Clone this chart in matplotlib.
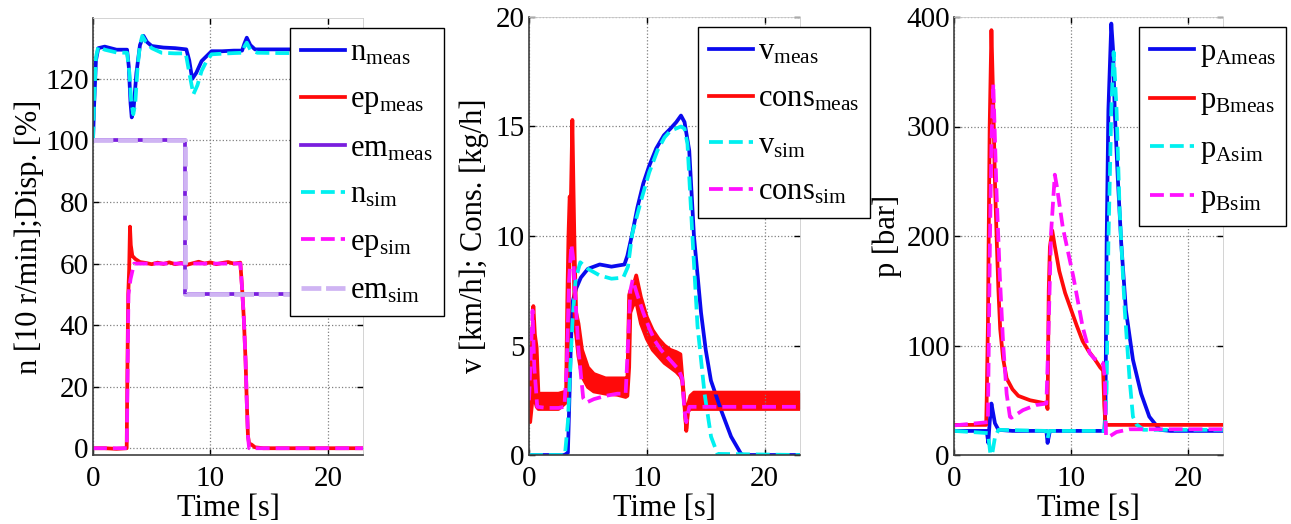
import matplotlib
matplotlib.use("Agg")
import matplotlib.pyplot as plt

plt.rcParams['font.family'] = ['Liberation Serif', 'DejaVu Serif']
plt.rcParams['mathtext.fontset'] = 'custom'
plt.rcParams['mathtext.rm'] = 'Liberation Serif'
plt.rcParams['mathtext.it'] = 'Liberation Serif:italic'

# ---- panel 1: speed / displacement ----
n_meas_t = [0, 0.1, 0.25, 0.45, 1.0, 2.0, 2.9, 3.05, 3.2, 3.3, 3.45, 3.7, 4.0, 4.3, 4.6, 5.0, 6.0, 7.0,
            7.95, 8.2, 8.45, 8.8, 9.25, 9.7, 10.1, 11, 12, 12.7, 12.9, 13.1, 13.4, 13.8, 15, 17, 20, 23]
n_meas_v = [100, 112, 126, 130, 130.5, 129.5, 129.5, 124, 112, 107.5, 110, 122, 131, 134, 132, 130.7, 130.2, 130,
            129.6, 126, 120, 122, 125.8, 127.5, 129, 129, 129.2, 129.2, 131.5, 133.4, 131, 129.6, 129.6, 129.6, 129.5, 129.5]
n_sim_t = [0, 0.1, 0.25, 0.45, 1.0, 2.0, 2.9, 3.1, 3.25, 3.43, 3.6, 3.8, 4.0, 4.2, 4.5, 5.0, 5.85, 7, 7.9,
           8.2, 8.55, 8.9, 9.25, 9.7, 10.1, 11, 12, 12.7, 12.9, 13.1, 13.4, 14, 16, 20, 23]
n_sim_v = [100, 113, 127, 130.5, 129.5, 128.6, 128.5, 122, 113, 108.5, 112, 124, 131, 134, 132, 130, 128.5, 128.3, 128.3,
           122, 115, 118, 122.6, 126, 128, 128.2, 128.4, 128.5, 130.5, 131.8, 129.5, 128.5, 128.4, 128.4, 128.4]
ep_meas_t = [0, 1, 2, 2.87, 2.93, 3.0, 3.08, 3.15, 3.22, 3.35, 3.6, 4.0, 4.5, 5, 5.5, 6, 6.5, 7, 7.5, 8, 8.5,
             9, 9.5, 10, 10.5, 11, 11.5, 12, 12.55, 12.7, 12.85, 13.0, 13.1, 13.2, 13.3, 13.5, 13.8, 14.5, 17, 20, 23]
ep_meas_v = [0, 0, -0.2, 0, 25, 50, 58, 72, 66, 62.5, 61.5, 60.5, 60.2, 59.8, 60.3, 59.9, 60.4, 59.8, 60.2, 59.6, 60.1,
             60.6, 60.0, 60.4, 59.8, 60.2, 60.5, 60.0, 60.3, 52, 42, 28, 15, 4, 1.5, 1.2, 0.3, 0, 0, 0, 0]
ep_sim_t = [0, 2.88, 2.95, 3.02, 3.2, 3.5, 12.55, 12.7, 12.85, 13.0, 13.1, 13.2, 13.3, 23]
ep_sim_v = [0, 0, 25, 50, 55, 60, 60, 52, 42, 28, 15, 4, 0, 0]
em_t = [0, 7.85, 7.85, 23]
em_meas_v = [100, 100, 50, 50]
em_sim_v = [100, 100, 50, 50]

# ---- panel 2: velocity / consumption ----
v_meas_t = [0, 3.0, 3.3, 3.4, 3.55, 3.7, 4.0, 4.4, 5.0, 6.0, 7.0, 8.1, 8.35, 8.76, 9.2, 9.7, 10.2, 10.8, 11.45,
            12.0, 12.5, 12.9, 13.2, 13.6, 14.0, 14.6, 15.0, 15.44, 16.3, 17.15, 18.0, 18.2, 23]
v_meas_v = [0, 0, 0.1, 2.0, 5.0, 7.0, 7.6, 8.1, 8.5, 8.7, 8.6, 8.7, 9.1, 10.1, 11.3, 12.4, 13.2, 14.0, 14.6,
            14.9, 15.2, 15.5, 15.2, 13.9, 10.0, 6.5, 4.8, 3.4, 2.05, 0.84, 0.05, 0, 0]
v_sim_t = [0, 3.05, 3.3, 3.5, 3.7, 3.95, 4.35, 5.0, 6.0, 7.0, 8.0, 8.4, 8.76, 9.5, 10.2, 10.9, 11.5, 12.0,
           12.9, 13.2, 13.45, 13.9, 14.3, 14.9, 15.45, 16.0, 23]
v_sim_v = [0, 0, 1.5, 4.0, 6.2, 8.0, 8.8, 8.5, 8.2, 8.05, 8.1, 8.6, 10.1, 11.6, 12.9, 13.9, 14.5, 14.8,
           15.0, 14.9, 14.2, 9.7, 5.9, 2.8, 0.84, 0.05, 0]
cons_meas_t = [0, 0.1, 0.25, 0.37, 0.5, 0.65, 0.8, 1.5, 2.5, 3.15, 3.25, 3.35, 3.45, 3.55, 3.68, 3.78, 3.88,
               4.0, 4.2, 4.5, 5.0, 5.5, 6.5, 7.5, 8.2, 8.35, 8.5, 8.6, 8.8, 9.1, 9.5, 10.0, 10.5, 11.0, 11.5,
               12.0, 12.5, 12.85, 13.0, 13.2, 13.35, 13.5, 13.7, 14.0, 16, 18, 20, 23]
cons_meas_hi = [2.4, 2.2, 5.0, 6.8, 5.5, 4.9, 2.8, 2.8, 2.8, 2.9, 7.0, 10.0, 11.8, 11.5, 15.3, 12.0, 9.0,
                6.5, 6.0, 4.8, 4.0, 3.7, 3.5, 3.5, 3.5, 3.4, 7.3, 7.5, 7.6, 8.2, 7.2, 6.3, 5.7, 5.3, 5.0,
                4.8, 4.7, 4.6, 3.6, 2.4, 1.2, 2.3, 2.7, 2.85, 2.85, 2.85, 2.85, 2.85]
cons_meas_lo = [2.0, 1.5, 2.3, 3.0, 2.5, 2.2, 2.1, 2.1, 2.1, 2.4, 3.0, 6.0, 9.5, 10.0, 11.0, 9.5, 6.0,
                5.5, 4.5, 3.6, 3.1, 2.9, 2.8, 2.75, 2.65, 2.7, 4.0, 6.5, 6.8, 7.0, 6.0, 5.3, 4.8, 4.5, 4.2,
                4.0, 3.8, 3.6, 3.4, 2.2, 1.1, 2.0, 2.1, 2.1, 2.1, 2.1, 2.1, 2.1]
cons_sim_t = [0, 0.15, 0.3, 0.45, 0.7, 1.5, 2.5, 3.0, 3.2, 3.4, 3.6, 3.75, 3.9, 4.2, 4.6, 4.9, 5.5, 6.5, 7.5,
              8.2, 8.4, 8.6, 8.8, 9.2, 9.7, 10.2, 10.7, 11.2, 11.7, 12.2, 12.7, 13.0, 13.2, 13.35, 13.6, 14, 23]
cons_sim_v = [2.5, 4.5, 6.6, 4.0, 2.2, 2.15, 2.15, 2.2, 4.0, 8.0, 9.6, 9.0, 7.5, 4.8, 2.6, 2.4, 2.55, 2.7, 2.8,
              2.8, 5.0, 7.5, 8.0, 7.3, 6.5, 5.8, 5.2, 4.8, 4.5, 4.2, 3.9, 3.5, 2.0, 1.5, 2.2, 2.2, 2.2]

# ---- panel 3: pressures ----
pA_meas_t = [0, 2.8, 2.93, 3.05, 3.2, 3.35, 3.5, 3.8, 5, 7.9, 8.0, 8.2, 10, 12.85, 12.95, 13.05, 13.2, 13.45,
             13.6, 13.74, 14.0, 14.3, 14.7, 15.3, 16.0, 16.7, 17.6, 18.5, 20, 23]
pA_meas_v = [22, 22, 11, 30, 47, 38, 29, 23, 22, 22, 11, 22, 22, 22, 41, 193, 315, 394,
             370, 315, 254, 193, 132, 87, 56, 35, 23, 22, 22, 22]
pB_meas_t = [0, 2.75, 2.8, 2.9, 3.05, 3.2, 3.36, 3.5, 3.64, 3.8, 3.95, 4.2, 4.5, 5.0, 5.5, 6.5, 7.9, 8.0, 8.1,
             8.2, 8.4, 8.6, 9.0, 9.5, 10.0, 10.5, 11.0, 11.5, 12.0, 12.5, 12.75, 12.85, 12.95, 15, 18, 23]
pB_meas_v = [27.5, 27.5, 53, 120, 300, 388, 320, 250, 200, 150, 115, 88, 70, 60, 54, 50, 47, 42, 150,
             190, 205, 192, 168, 148, 133, 118, 104, 95, 88, 80, 77, 45, 27.5, 27.5, 27.5, 27.5]
pA_sim_t = [0, 2.9, 3.1, 3.25, 3.5, 3.8, 7.9, 8.0, 8.15, 12.9, 13.05, 13.2, 13.45, 13.65, 13.9, 14.16, 14.6,
            15.0, 15.3, 15.6, 16.2, 23]
pA_sim_v = [22, 20, 2, 0, 16, 23, 22, 15, 22, 22, 60, 193, 315, 368, 315, 224, 132, 71, 35, 28, 23, 23]
pB_sim_t = [0, 2.9, 3.07, 3.2, 3.36, 3.64, 3.92, 4.2, 4.5, 4.78, 4.9, 5.9, 7.0, 7.9, 8.05, 8.3, 8.62, 8.8,
            9.3, 10.2, 11.0, 11.6, 12.0, 12.74, 12.9, 13.0, 13.3, 13.9, 15, 23]
pB_sim_v = [27, 30, 193, 285, 339, 239, 163, 102, 56, 35, 34, 41, 45.6, 47, 100, 203, 256, 245,
            208, 163, 117, 93, 88, 84, 70, 17, 17, 21, 23.5, 23.5]

BLUE = '#0a0aee'
RED = '#ff0a0a'
CYAN = '#00f0f0'
MAG = '#ff10ff'
PURP = '#7a1ede'
LPURP = '#cfb4f3'
LW = 2.7
FS_TICK = 21
FS = 22

W, H = 1291, 524
fig = plt.figure(figsize=(W / 100, H / 100), dpi=100)


def make_ax(x0, x1, y0, y1):
    ax = fig.add_axes([x0 / W, 1 - y1 / H, (x1 - x0) / W, (y1 - y0) / H])
    ax.grid(True, color='0.5', ls=':', lw=0.9)
    ax.tick_params(direction='in', top=True, right=True, length=4, width=1, labelsize=FS_TICK)
    ax.tick_params(axis='x', pad=8)
    ax.tick_params(axis='y', pad=3)
    for s in ['top', 'right']:
        ax.spines[s].set_color('0.8')
        ax.spines[s].set_linewidth(0.6)
    for s in ['left', 'bottom']:
        ax.spines[s].set_color('0.25')
        ax.spines[s].set_linewidth(1.2)
    ax.set_xlim(0, 23)
    ax.set_xticks([0, 10, 20])
    ax.set_xlabel('Time [s]', fontsize=FS, labelpad=1)
    return ax


def add_legend(ax, x, y):
    leg = ax.legend(loc='upper left', bbox_to_anchor=(x / W, 1 - y / H), bbox_transform=fig.transFigure,
                    borderaxespad=0, fancybox=False, framealpha=1, edgecolor='k', fontsize=FS,
                    handlelength=1.45, handletextpad=0.18, labelspacing=0.58, borderpad=0.35)
    leg.get_frame().set_linewidth(1.0)
    leg.set_zorder(10)


# panel 1
ax1 = make_ax(93, 363, 18, 455)
ax1.plot(n_meas_t, n_meas_v, color=BLUE, lw=LW, label='n$_{\\mathrm{meas}}$')
ax1.plot(ep_meas_t, ep_meas_v, color=RED, lw=LW, label='ep$_{\\mathrm{meas}}$')
ax1.plot(em_t, em_meas_v, color=PURP, lw=LW, label='em$_{\\mathrm{meas}}$')
ax1.plot(n_sim_t, n_sim_v, color=CYAN, lw=LW, ls='--', label='n$_{\\mathrm{sim}}$')
ax1.plot(ep_sim_t, ep_sim_v, color=MAG, lw=LW, ls='--', label='ep$_{\\mathrm{sim}}$')
ax1.plot(em_t, em_sim_v, color=LPURP, lw=3.4, ls=(0, (4.2, 1.0)), label='em$_{\\mathrm{sim}}$')
ax1.set_ylim(-2.2, 139.8)
ax1.set_yticks(range(0, 121, 20))
ax1.set_ylabel('n [10 r/min];Disp. [%]', fontsize=FS, labelpad=1)
add_legend(ax1, 290, 28)

# panel 2
ax2 = make_ax(529, 800, 17, 455)
ax2.plot(v_meas_t, v_meas_v, color=BLUE, lw=LW, label='v$_{\\mathrm{meas}}$')
ax2.fill_between(cons_meas_t, cons_meas_lo, cons_meas_hi, color=RED, lw=0)
ax2.plot(cons_meas_t, cons_meas_hi, color=RED, lw=LW, label='cons$_{\\mathrm{meas}}$')
ax2.plot(cons_meas_t, cons_meas_lo, color=RED, lw=LW)
ax2.plot(v_sim_t, v_sim_v, color=CYAN, lw=LW, ls='--', label='v$_{\\mathrm{sim}}$')
ax2.plot(cons_sim_t, cons_sim_v, color=MAG, lw=LW, ls='--', label='cons$_{\\mathrm{sim}}$')
ax2.set_ylim(0, 20)
ax2.set_yticks([0, 5, 10, 15, 20])
ax2.set_ylabel('v [km/h]; Cons. [kg/h]', fontsize=FS, labelpad=5)
add_legend(ax2, 698, 27)

# panel 3
ax3 = make_ax(954, 1223, 17, 455)
ax3.plot(pA_meas_t, pA_meas_v, color=BLUE, lw=LW, label='p$_{\\mathrm{Ameas}}$')
ax3.plot(pB_meas_t, pB_meas_v, color=RED, lw=LW, label='p$_{\\mathrm{Bmeas}}$')
ax3.plot(pA_sim_t, pA_sim_v, color=CYAN, lw=LW, ls='--', label='p$_{\\mathrm{Asim}}$')
ax3.plot(pB_sim_t, pB_sim_v, color=MAG, lw=LW, ls='--', label='p$_{\\mathrm{Bsim}}$')
ax3.set_ylim(0, 400)
ax3.set_yticks([0, 100, 200, 300, 400])
ax3.set_ylabel('p [bar]', fontsize=FS, labelpad=3)
add_legend(ax3, 1139, 27)

fig.savefig('out.png', dpi=100)
